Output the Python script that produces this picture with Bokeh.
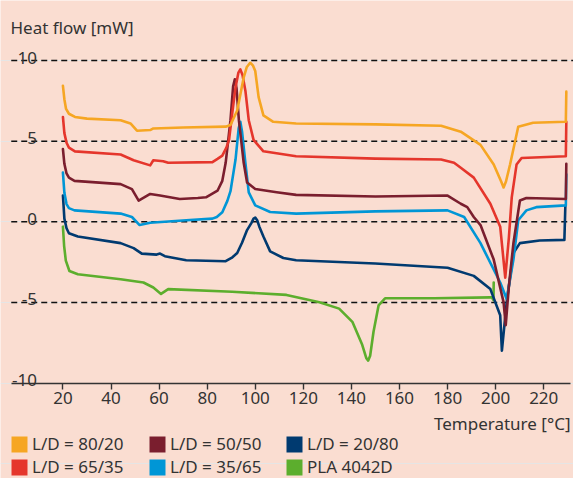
from bokeh.plotting import figure
from bokeh.models import (ColumnDataSource, FixedTicker, Legend, LegendItem,
                          Label, Range1d)
from bokeh.embed import file_html
from bokeh.resources import INLINE
from bokeh.core.properties import value

# ---------------- data ----------------
x_ticks = [20, 40, 60, 80, 100, 120, 140, 160, 180, 200, 220]
y_ticks = [-10, -5, 0, 5, 10]
y_labels = ["-10", "-5", "0", "5", "10"]
dash_ticks = [-5, 0, 5, 10]

ld80_t = [20, 20.6, 21.3, 22.5, 25, 30, 44, 48.1, 50.8, 56.3, 57.6, 70, 87.7, 89.7,
          92.5, 95.2, 96.5, 97.9, 99, 100, 101.4, 103.4, 107.5, 117, 150, 177.3, 185.5,
          193.7, 199.2, 202.3, 203.3, 204.3, 206, 209.4, 215.6, 229.2, 229.4]
ld80_v = [8.43, 7.6, 7.0, 6.7, 6.5, 6.4, 6.3, 6.1, 5.65, 5.69, 5.79, 5.85, 5.9, 6.0,
          6.9, 8.95, 9.6, 9.86, 9.7, 9.35, 7.73, 6.6, 6.2, 6.1, 6.04, 5.96, 5.59,
          4.77, 3.55, 2.5, 2.13, 2.5, 3.55, 5.9, 6.14, 6.2, 8.07]

ld65_t = [20, 20.6, 21.5, 22.5, 25, 44, 49.4, 56.3, 57.6, 61.7, 63.8, 82.2, 84.3,
          86.3, 88, 89.1, 90.4, 91.8, 93, 93.8, 94.7, 95.9, 97.3, 99.3, 103.4, 117,
          150, 177.3, 182.7, 185.5, 190.9, 197.8, 201.9, 204, 205.5, 206.7, 208.7,
          210.8, 229.2, 229.4]
ld65_v = [6.5, 5.5, 4.9, 4.6, 4.37, 4.17, 3.82, 3.5, 3.82, 3.76, 3.66, 3.7, 3.9,
          4.1, 4.6, 5.08, 6.7, 8.33, 9.25, 9.45, 9.1, 8.13, 6.3, 5.08, 4.37, 4.07,
          3.92, 3.86, 3.66, 3.35, 2.74, 1.12, -0.3, -3.46, -1.0, 1.52, 3.55,
          3.96, 4.07, 6.2]

ld50_t = [20, 20.6, 21.5, 22.5, 24.8, 44, 48.7, 51.5, 56.3, 60.4, 68.6, 76.1, 79.5,
          84.3, 86.3, 87.7, 89.7, 90.8, 91.5, 92.2, 93.2, 95.2, 96.6, 100, 108.9, 117,
          150, 180, 185.5, 188.2, 190.9, 193.7, 199.2, 203.3, 204.2, 205.5, 207.4,
          210.1, 212.8, 229.2, 229.4]
ld50_v = [4.51, 3.6, 3.0, 2.74, 2.54, 2.34, 2.03, 1.32, 1.73, 1.63, 1.42, 1.48, 1.52,
          1.93, 2.54, 3.66, 6.3, 8.4, 8.84, 8.3, 6.3, 3.66, 2.44, 2.03, 1.83, 1.67,
          1.57, 1.63, 1.12, 0.91, 0.3, -0.2, -2.34, -4.98, -6.4, -4.0, -1.32,
          1.32, 1.48, 1.42, 3.6]

ld35_t = [20, 20.6, 21.5, 22.5, 24.8, 44, 48.7, 51.9, 56.3, 71.3, 82.2, 84, 86.3,
          88.4, 89.7, 91.8, 93.1, 93.8, 94.5, 95.9, 97.3, 100, 106.2, 117, 149.9, 180,
          186.9, 193.7, 201.9, 204.6, 207.4, 209.4, 212.8, 216.9, 229.2, 229.4]
ld35_v = [3.05, 1.8, 1.1, 0.85, 0.71, 0.51, 0.3, -0.2, -0.06, 0.1, 0.2, 0.3, 0.6,
          1.3, 1.9, 3.86, 5.8, 6.2, 5.6, 3.66, 1.83, 1.02, 0.61, 0.51, 0.65, 0.71,
          0.3, -1.32, -3.76, -4.78, -2.34, 0.1, 0.71, 0.91, 1.02, 2.94]

ld20_t = [20, 20.6, 21.5, 22.5, 26.2, 44, 49.4, 52.8, 59, 60.4, 62.4, 71.3, 87.7,
          90.5, 92.5, 94.5, 96.6, 98.5, 99.3, 100, 100.8, 101.7, 103.4, 106.2, 111.7,
          117, 149.9, 180, 190.9, 197.8, 201.9, 202.6, 204.6, 207.4, 210.1, 218.3,
          228.6, 229.0]
ld20_v = [1.63, 0.2, -0.4, -0.71, -0.91, -1.32, -1.63, -1.97, -2.03, -1.97, -2.13,
          -2.38, -2.44, -2.2, -1.93, -1.3, -0.51, -0.05, 0.2, 0.26, 0.1, -0.3, -0.91,
          -1.83, -2.24, -2.38, -2.58, -2.85, -3.35, -4.17, -5.79, -7.99, -4.98,
          -1.93, -1.32, -1.16, -1.12, 1.0]

pla_t = [20, 20.5, 21.2, 22.7, 26.2, 44, 53.5, 57.6, 60.8, 63.8, 90.4, 113, 126.7,
         134.9, 140.4, 144.5, 146.2, 147, 147.8, 149.2, 151.3, 154, 174.5, 197.8,
         198.4, 199.1, 199.2]
pla_v = [-0.3, -1.5, -2.4, -3.05, -3.25, -3.56, -3.76, -4.07, -4.47, -4.17, -4.33,
         -4.53, -4.98, -5.38, -6.2, -7.62, -8.45, -8.6, -8.3, -6.81, -5.18, -4.74,
         -4.74, -4.68, -4.68, -4.85, -3.76]

series_names = ["L/D = 80/20", "L/D = 65/35", "L/D = 50/50", "L/D = 35/65",
                "L/D = 20/80", "PLA 4042D"]
series_t = [ld80_t, ld65_t, ld50_t, ld35_t, ld20_t, pla_t]
series_v = [ld80_v, ld65_v, ld50_v, ld35_v, ld20_v, pla_v]
colors = ["#F6A623", "#E5362C", "#7A1E2E", "#0096D6", "#003A70", "#5CAE2D"]

# ---------------- styling ----------------
BG = "#FADDD1"
TXT = "#333333"
FONT = "Noto Sans"
FS = "17px"
W, H = 573, 478
X0, X1 = -5.97, 232.39
Y0, Y1 = -15.91, 13.72
AX_LEFT, AX_RIGHT = -1.5, 231.2
NAN = float("nan")

p = figure(width=W, height=H, output_backend="svg", toolbar_location=None,
           x_range=Range1d(X0, X1), y_range=Range1d(Y0, Y1),
           y_axis_location=None,
           min_border_left=0, min_border_right=0, min_border_top=0,
           min_border_bottom=0,
           background_fill_color=BG, border_fill_color=BG, outline_line_color=None)
p.xgrid.visible = False

# dashed reference lines
p.segment(x0=[AX_LEFT] * len(dash_ticks), x1=[X1] * len(dash_ticks),
          y0=dash_ticks, y1=dash_ticks, line_color="#111111", line_width=1.5,
          line_dash="6 4")

ax = p.xaxis[0]
ax.fixed_location = -10
ax.bounds = (AX_LEFT, AX_RIGHT)
ax.ticker = FixedTicker(ticks=x_ticks)
ax.axis_line_color = TXT
ax.axis_line_width = 1.6
ax.major_tick_line_color = TXT
ax.major_tick_line_width = 1.4
ax.major_tick_in = 0
ax.major_tick_out = 6
ax.minor_tick_line_color = None
ax.major_label_text_font = FONT
ax.major_label_text_font_size = FS
ax.major_label_text_color = TXT
ax.major_label_standoff = 3

# y tick labels (above the dashed lines)
ysrc = ColumnDataSource(dict(x=[X0] * len(y_ticks), y=y_ticks, t=y_labels))
p.text(x="x", y="y", text="t", source=ysrc, x_offset=36.5, y_offset=-3,
       text_align="right", text_baseline="alphabetic", text_font=value(FONT),
       text_font_size=FS, text_color=TXT)

# curves (drawn bottom-up)
for i in [5, 4, 3, 2, 1, 0]:
    p.line(series_t[i], series_v[i], line_color=colors[i], line_width=2.6,
           line_join="round", line_cap="round")

# legend swatches (not drawn on the plot: NaN coordinates)
swatches = []
for c in colors:
    r = p.quad(left=[NAN], right=[NAN], top=[NAN], bottom=[NAN],
               fill_color=c, line_color=None)
    swatches.append(r)

cols = [(0, 1), (2, 3), (4, 5)]
col_x = [9, 147, 284]
for (a, b), lx in zip(cols, col_x):
    leg = Legend(items=[LegendItem(label=series_names[a], renderers=[swatches[a]]),
                        LegendItem(label=series_names[b], renderers=[swatches[b]])],
                 location=(lx, 0), orientation="vertical",
                 glyph_width=20, glyph_height=20, label_standoff=3, spacing=0,
                 padding=0, margin=0, border_line_color=None,
                 background_fill_alpha=0, label_text_font=FONT,
                 label_text_font_size=FS, label_text_color=TXT)
    p.add_layout(leg)

p.add_layout(Label(x=10, y=451, x_units="screen", y_units="screen",
                   text="Heat flow [mW]", text_font=FONT, text_font_size=FS,
                   text_color=TXT, text_baseline="alphabetic", text_align="left"))
p.add_layout(Label(x=570, y=55, x_units="screen", y_units="screen",
                   text="Temperature [°C]", text_font=FONT, text_font_size=FS,
                   text_color=TXT, text_baseline="middle", text_align="right"))

open("out.html", "w").write(file_html(p, INLINE))
